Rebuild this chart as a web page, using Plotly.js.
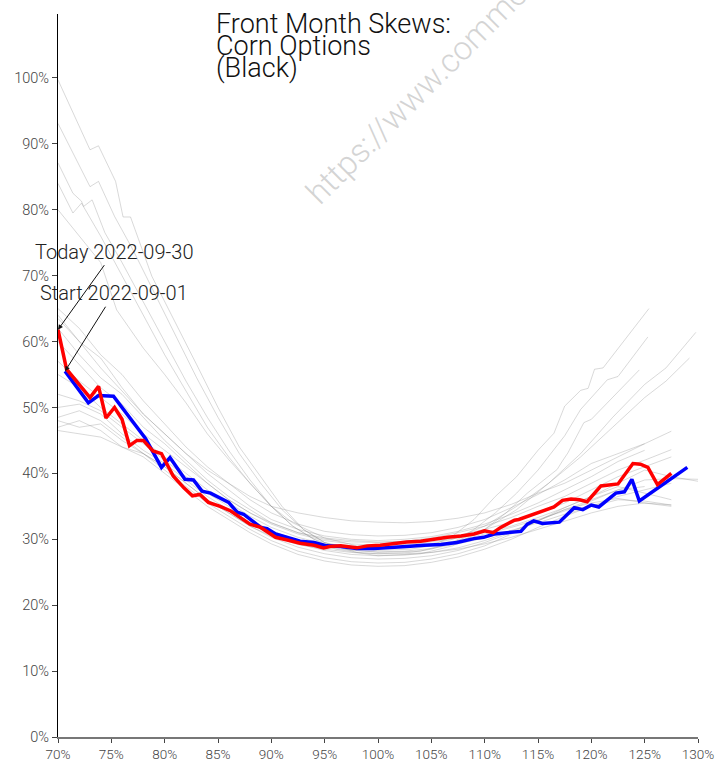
<!DOCTYPE html>
<html>
<head>
<meta charset="utf-8">
<script src="https://cdn.plot.ly/plotly-3.0.1.min.js"></script>
<style>html,body{margin:0;padding:0;background:#fff;}#chart{width:728px;height:762px;}</style>
</head>
<body>
<div id="chart"></div>
<script>
// ---- Data (moneyness %, implied vol %) ----
const todayLabel = "Today 2022-09-30";
const startLabel = "Start 2022-09-01";
const titleLines = ["Front Month Skews:", "Corn Options", "(Black)"];
const watermark = "https://www.commodityvol.com";

const todayX = [70.0,70.8,73.0,73.8,74.5,75.3,76.0,76.7,77.4,78.0,78.9,79.7,80.8,81.8,82.6,83.3,84.1,85.2,86.2,87.1,88.0,89.0,89.7,90.4,91.5,92.7,94.0,94.9,95.5,96.5,98.0,99.0,100.2,101.5,102.7,104.0,105.2,106.5,107.8,109.0,110.0,110.8,111.5,112.8,113.2,113.9,114.8,115.6,116.5,117.3,118.1,118.9,119.6,120.9,121.7,122.5,123.9,124.6,125.3,126.2,127.5];
const todayY = [61.8,55.8,51.5,53.2,48.4,50.0,48.2,44.2,45.0,45.0,43.4,43.0,39.6,37.8,36.6,36.8,35.6,35.0,34.3,33.3,32.3,31.8,31.0,30.3,29.9,29.4,29.1,28.7,28.9,29.0,28.7,29.0,29.1,29.4,29.6,29.7,30.0,30.3,30.5,30.8,31.3,31.0,31.8,32.9,33.0,33.4,34.0,34.5,34.9,35.9,36.1,36.0,35.7,38.1,38.3,38.4,41.5,41.4,40.9,38.3,40.0];

const startX = [70.66,72.85,73.8,75.2,78.2,79.7,80.5,81.9,82.7,83.5,84.3,85.2,86.0,86.8,87.4,89.0,89.6,90.4,91.5,92.7,94.0,95.2,96.5,98.0,99.6,101.2,102.7,104.3,105.9,107.4,109.0,109.9,110.9,112.1,113.4,114.0,114.6,115.4,117.0,118.4,119.2,120.0,120.7,122.3,123.1,123.8,124.5,129.0];
const startY = [55.5,50.7,51.8,51.7,45.3,40.9,42.4,39.1,39.0,37.3,37.0,36.3,35.6,34.1,33.8,31.8,31.6,30.8,30.3,29.7,29.5,29.0,28.9,28.6,28.6,28.7,28.9,29.1,29.2,29.5,30.1,30.3,30.8,31.0,31.2,32.3,32.8,32.4,32.6,34.8,34.5,35.2,34.9,37.0,37.2,39.1,35.8,40.9];

// Historical (gray) curves with steep wings
const steep1X = [70.0,73.0,73.8,75.4,76.1,76.8,78.8,81,83,85,87,89,91,93,95,98,100,103,105,107,109,111,113,115,116.5,117.5,119,119.7,120.3,121.1,125.4];
const steep1Y = [99.7,89.1,89.7,84.3,78.9,78.9,69.9,63,56.5,50,44,39.5,35,31.5,29.5,28.5,28.3,28.5,29,30.5,33,36.5,39.5,43.5,46.1,50.2,52.6,52.9,55.8,56.0,65.0];
const steep2X = [70.0,73.0,73.8,75.3,77,79,81,83,85,87,89,91,93,95,98,100,103,105,107,109,111,113,115,117.5,119,121.5,122.5,125.3];
const steep2Y = [93.1,83.5,84.3,79.0,74,67.5,61,54.5,48.5,43,38.5,34.5,31.5,29.5,28,27.8,28,28.5,29.5,31.5,34,37,40.5,45.7,49.7,54.2,54.7,60.7];
const steep3X = [70.0,71.4,72.2,72.4,73.2,74.4,76,78,80,82,84,86,88,90,92,94,96,100,104,107,110,112,114,116.8,117.3,117.8,119.3,120,124.5];
const steep3Y = [87.1,82.5,81.3,80.5,81.5,76.5,72,66,60,54,48.5,43.5,39,35,32,30,28.5,27.5,27.8,29,31.5,34,37,40.6,41.9,43.1,47.7,48.2,55.7];
const steep4X = [70.0,71.4,72.2,74,76,78,80,82,84,86,88,90,92,94,97,100,104,107,110,113,116,119,122,125,127,129.8];
const steep4Y = [84.0,79.5,81.0,76,70,64,58,52.5,47,42.5,38.5,35,32,30,28.5,28,28.2,29.5,31.5,34.5,38.5,43,48.5,53.5,56,61.4];
const steep5X = [70,72,74,75.5,78,80,82,84,86,88,90,92,95,98,100,104,107,110,113,116,119,122,125,127,129.2];
const steep5Y = [80,76,72,64.8,59,55,50.7,46,42.1,38.5,35,32.5,30.2,29,28.7,29,30,32,35,38.5,42.5,47,51.5,54,57.5];

const histX = [70,72,74,76,78,80,82,84,86,88,90,92.5,95,97.5,100,102.5,105,107.5,110,112.5,115,117.5,120,122.5,125,127.5,130];
const hist1 = [65,62,58,55,51,47.5,44,41,38.5,36,34,32.3,31.2,30.7,30.5,30.6,31,31.8,33,34.8,36.8,39,41.5,43,44.5,46.4,null];
const hist2 = [63.5,60,57.5,53,49,46,43,40,37.5,35,33,31.5,30.5,30,29.8,30,30.4,31.2,32.3,33.8,35.5,37.5,39.5,41.8,43.5,null,null];
const hist3 = [62,58,54.5,52,48.5,45,42,39,36.5,34.5,32.5,31,30,29.6,29.5,29.7,30.2,31,32,33.3,35,36.5,38.5,40.5,42,43.6,null];
const hist4 = [60,56.5,53,50.5,47,44.5,41.5,38.5,36,34,32.5,31,30.2,29.8,29.6,29.7,30,30.6,31.5,32.6,34,35.5,37.5,39.5,41,42.5,null];
const hist5 = [57,54,51.5,49,46,43.5,41,38.5,36,34,32.3,30.8,29.8,29.3,29.1,29.2,29.6,30.2,31,32,33.3,34.8,36.5,38.5,40.5,39.5,38.8];
const hist6 = [55,53,50,47.5,45,42.5,40,37.5,35.5,33.5,31.8,30.3,29.3,28.8,28.6,28.8,29.2,29.8,30.8,31.8,33,34.3,35.8,37.5,39,39.2,39.1];
const hist7 = [52,51,49.5,47,44.5,42,39.5,37,35,33,31.3,29.8,28.8,28.3,28.1,28.2,28.6,29.3,30.2,31.3,32.5,33.8,35,36.5,37.5,38.5,null];
const hist8 = [50,50.5,49,46,43.5,41.5,39,36.5,34.5,32.5,30.8,29.3,28.3,27.7,27.5,27.6,28,28.7,29.8,31.2,32.8,34.5,36,37.5,38,null,null];
const hist9 = [48.5,49.5,48,45.5,43,41,38.5,36,34,32,30.3,28.8,27.8,27.2,27,27.1,27.5,28.3,29.5,31,32.8,34.8,36.5,38,37,36,null];
const hist10 = [48,47,47.5,45,43,40.5,38,35.5,33.5,31.5,29.8,28.2,27.2,26.6,26.4,26.5,27,27.8,29,30.8,32.8,34.5,35.5,36.2,35.5,35,null];
const hist11 = [47,48,46.5,44,42.5,40,37.5,35,33,31,29.3,27.7,26.7,26.1,25.9,26,26.5,27.3,28.5,30,31.8,33.5,35,36,35.8,35.2,null];
const hist12 = [46.5,46,45.5,44,43,41,38.5,36,34,32,30.5,29.2,28.5,28,27.8,27.8,28,28.5,29.3,30.3,31.5,32.8,34,35,35.5,35.2,null];
const hist13 = [64,60,56,52.5,49,46,43,40.5,38.5,36.5,35,34,33.3,32.8,32.6,32.5,32.7,33.2,34,35.3,37,38.5,40.5,42.5,44.5,null,null];

const xTicks = [70,75,80,85,90,95,100,105,110,115,120,125,130];
const xTickText = ["70%","75%","80%","85%","90%","95%","100%","105%","110%","115%","120%","125%","130%"];

// ---- Traces ----
const grayStyle = {color: 'rgba(140,140,140,0.33)', width: 1};
const traces = [];
[[steep1X,steep1Y],[steep2X,steep2Y],[steep3X,steep3Y],[steep4X,steep4Y],[steep5X,steep5Y]].forEach(p => {
  traces.push({x: p[0], y: p[1], type: 'scatter', mode: 'lines', line: grayStyle, hoverinfo: 'skip'});
});
[hist1,hist2,hist3,hist4,hist5,hist6,hist7,hist8,hist9,hist10,hist11,hist12,hist13].forEach(h => {
  traces.push({x: histX, y: h, type: 'scatter', mode: 'lines', line: grayStyle, hoverinfo: 'skip'});
});
traces.push({x: startX, y: startY, type: 'scatter', mode: 'lines', line: {color: 'blue', width: 3.5}, name: startLabel});
traces.push({x: todayX, y: todayY, type: 'scatter', mode: 'lines', line: {color: 'red', width: 3.5}, name: todayLabel});

const FONT = 'Roboto, "Open Sans", sans-serif';
const titleY = [0.9862, 0.9558, 0.9254];
const annotations = titleLines.map((t, i) => ({
  text: t, xref: 'paper', yref: 'paper', x: 0.246, y: titleY[i], xanchor: 'left', yanchor: 'middle',
  showarrow: false, borderpad: 0, font: {family: FONT, size: 27, color: '#111', weight: 300}
}));
annotations.push({
  text: watermark, xref: 'paper', yref: 'paper', x: 0.37, y: 0.7224, xanchor: 'left', yanchor: 'bottom',
  textangle: -45, showarrow: false, font: {family: FONT, size: 33, color: 'rgba(170,170,170,0.5)', weight: 300}
});
annotations.push({
  text: todayLabel, x: todayX[0], y: todayY[0], xref: 'x', yref: 'y', ax: 56, ay: -78,
  showarrow: true, arrowhead: 2, arrowsize: 1, arrowwidth: 1, arrowcolor: '#111',
  font: {family: FONT, size: 20, color: '#222', weight: 300}
});
annotations.push({
  text: startLabel, x: startX[0], y: startY[0], xref: 'x', yref: 'y', ax: 49, ay: -78,
  showarrow: true, arrowhead: 2, arrowsize: 1, arrowwidth: 1, arrowcolor: '#111',
  font: {family: FONT, size: 20, color: '#222', weight: 300}
});

const layout = {
  width: 728, height: 762,
  margin: {l: 58, r: 30, t: 14, b: 25, pad: 0},
  paper_bgcolor: '#fff', plot_bgcolor: '#fff',
  showlegend: false,
  font: {family: FONT, size: 14, color: '#444', weight: 300},
  xaxis: {
    range: [70, 130], tickmode: 'array', tickvals: xTicks, ticktext: xTickText, ticks: 'outside', ticklen: 4, tickcolor: '#444',
    showgrid: false, zeroline: false, showline: true, linecolor: '#777', linewidth: 2,
    tickfont: {family: FONT, size: 13.5, color: '#444', weight: 300}
  },
  yaxis: {
    range: [0, 109.7], dtick: 10, tick0: 0, ticksuffix: '%', ticks: 'outside', ticklen: 5, tickcolor: '#444',
    showgrid: false, zeroline: false, showline: true, linecolor: '#000', linewidth: 1,
    tickfont: {family: FONT, size: 14.5, color: '#444', weight: 300}
  },
  annotations: annotations
};

Plotly.newPlot('chart', traces, layout, {displayModeBar: false, staticPlot: true});
</script>
</body>
</html>
